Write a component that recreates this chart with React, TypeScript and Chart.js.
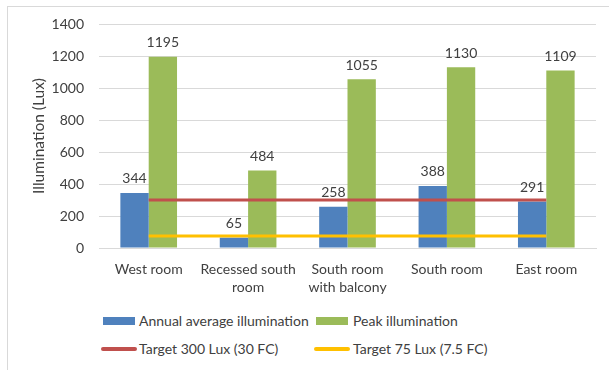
import React, { useEffect, useRef } from "react";
import { Chart, registerables } from "chart.js";

Chart.register(...registerables);

const categories: (string | string[])[] = [
  "West room",
  ["Recessed south", "room"],
  ["South room", "with balcony"],
  "South room",
  "East room",
];
const annualAverage = [344, 65, 258, 388, 291];
const peakIllumination = [1195, 484, 1055, 1130, 1109];
const target300 = [300, 300, 300, 300, 300];
const target75 = [75, 75, 75, 75, 75];
const yTicks = [0, 200, 400, 600, 800, 1000, 1200, 1400];

const FONT = "Lato, 'Open Sans', sans-serif";
const TEXT = "#404040";
const BLUE = "#4F81BD";
const GREEN = "#9BBB59";
const RED = "#C0504D";
const YELLOW = "#FFC000";
const GRID = "#D9D9D9";

const barLabels = {
  id: "barLabels",
  afterDatasetsDraw(chart: any) {
    const ctx = chart.ctx;
    ctx.save();
    ctx.font = `14px ${FONT}`;
    ctx.fillStyle = TEXT;
    ctx.textAlign = "center";
    ctx.textBaseline = "middle";
    chart.data.datasets.forEach((ds: any, i: number) => {
      if (ds.type !== "bar") return;
      const meta = chart.getDatasetMeta(i);
      meta.data.forEach((el: any, j: number) => {
        ctx.fillText(String(ds.data[j]), el.x, el.y - 14);
      });
    });
    ctx.restore();
  },
};

export default function App() {
  const ref = useRef<HTMLCanvasElement>(null);
  useEffect(() => {
    if (!ref.current) return;
    Chart.defaults.font.family = FONT;
    Chart.defaults.color = TEXT;
    const chart = new Chart(ref.current, {
      type: "bar",
      data: {
        labels: categories,
        datasets: [
          {
            type: "line",
            label: "Target 300 Lux (30 FC)",
            data: target300,
            borderColor: RED,
            backgroundColor: RED,
            borderWidth: 3,
            pointRadius: 0,
            order: 0,
          },
          {
            type: "line",
            label: "Target 75 Lux (7.5 FC)",
            data: target75,
            borderColor: YELLOW,
            backgroundColor: YELLOW,
            borderWidth: 3,
            pointRadius: 0,
            order: 0,
          },
          {
            type: "bar",
            label: "Annual average illumination",
            data: annualAverage,
            backgroundColor: BLUE,
            categoryPercentage: 0.57,
            barPercentage: 1,
            order: 1,
          },
          {
            type: "bar",
            label: "Peak illumination",
            data: peakIllumination,
            backgroundColor: GREEN,
            categoryPercentage: 0.57,
            barPercentage: 1,
            order: 1,
          },
        ] as any,
      },
      options: {
        responsive: false,
        animation: false,
        layout: { padding: { left: 7, right: 13, top: 24, bottom: 0 } },
        plugins: {
          legend: { display: false },
          tooltip: { enabled: false },
        },
        scales: {
          x: {
            grid: { display: false },
            border: { display: true, color: GRID, width: 1 },
            ticks: {
              color: TEXT,
              font: { size: 14, lineHeight: 1.33 },
              padding: 4,
              maxRotation: 0,
              autoSkip: false,
            },
            afterFit: (s: any) => {
              s.height = 52;
            },
          },
          y: {
            min: 0,
            max: 1400,
            afterBuildTicks: (s: any) => {
              s.ticks = yTicks.map((v) => ({ value: v }));
            },
            grid: { color: GRID, drawTicks: false, lineWidth: 1 },
            border: { display: false },
            ticks: {
              color: TEXT,
              font: { size: 14 },
              padding: 15,
              callback: (v: any) => String(v),
            },
            title: {
              display: true,
              text: "Illumination (Lux)",
              color: TEXT,
              font: { size: 15.5 },
              padding: { top: 23, bottom: 0 },
            },
            afterFit: (s: any) => {
              s.width = 92;
            },
          },
        },
      },
      plugins: [barLabels],
    });
    return () => chart.destroy();
  }, []);

  const legendText: React.CSSProperties = {
    position: "absolute",
    font: `14px ${FONT}`,
    color: TEXT,
    lineHeight: "16px",
    whiteSpace: "nowrap",
  };
  const box = (left: number, top: number, color: string, w: number, h: number, r: number) => (
    <div
      style={{
        position: "absolute",
        left,
        top,
        width: w,
        height: h,
        background: color,
        borderRadius: r,
      }}
    />
  );

  return (
    <div
      style={{
        position: "fixed",
        left: 0,
        top: 0,
        width: 609,
        height: 370,
        background: "#fff",
        overflow: "hidden",
      }}
    >
      <div
        style={{
          position: "absolute",
          left: 7,
          top: 6,
          width: 640,
          height: 420,
          border: `1px solid ${GRID}`,
          boxSizing: "border-box",
        }}
      />
      <canvas
        ref={ref}
        width={609}
        height={300}
        style={{ position: "absolute", left: 0, top: 0, width: 609, height: 300 }}
      />
      {box(103, 317, BLUE, 32, 8, 0)}
      <div style={{ ...legendText, left: 139, top: 313 }}>Annual average illumination</div>
      {box(316, 317, GREEN, 32, 8, 0)}
      <div style={{ ...legendText, left: 353, top: 313 }}>Peak illumination</div>
      {box(101, 347, RED, 36, 4, 2)}
      <div style={{ ...legendText, left: 139, top: 341 }}>Target 300 Lux (30 FC)</div>
      {box(314, 347, YELLOW, 36, 4, 2)}
      <div style={{ ...legendText, left: 353, top: 341 }}>Target 75 Lux (7.5 FC)</div>
    </div>
  );
}
